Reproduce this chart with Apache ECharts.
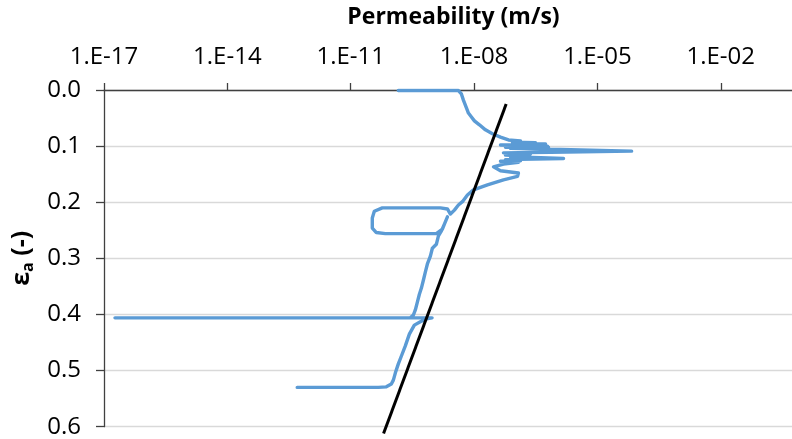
<!DOCTYPE html>
<html>
<head>
<meta charset="utf-8">
<script src="https://cdn.jsdelivr.net/npm/echarts@6/dist/echarts.min.js"></script>
<style>
  html, body { margin: 0; padding: 0; background: #fff; }
  #chart { width: 792px; height: 439px; }
</style>
</head>
<body>
<div id="chart"></div>
<script>
// Axial strain (-) along the measured permeability path
const strain = [
  0.001, 0.001, 0.007, 0.018, 0.032, 0.041, 0.048, 0.055, 0.062, 0.071,
  0.078, 0.084, 0.089, 0.091, 0.093, 0.094, 0.095, 0.096, 0.098, 0.100,
  0.102, 0.102, 0.104, 0.106, 0.109, 0.111, 0.112, 0.114, 0.116, 0.118,
  0.119, 0.122, 0.124, 0.126, 0.127, 0.129, 0.132, 0.137,
  0.144, 0.148, 0.154, 0.160, 0.169, 0.178, 0.187, 0.199,
  0.205, 0.214, 0.221, 0.212, 0.210, 0.210, 0.216, 0.228, 0.246, 0.254,
  0.256, 0.256, 0.248, 0.239, 0.226, 0.239, 0.251, 0.260, 0.275, 0.282,
  0.296, 0.310, 0.324, 0.339, 0.353, 0.364, 0.378, 0.392, 0.401, 0.406,
  0.406, 0.406, 0.408, 0.413, 0.419, 0.435, 0.456, 0.474, 0.488, 0.504,
  0.517, 0.524, 0.529, 0.530, 0.530
];

// Permeability (m/s) at each strain step
const permeability = [
  1.44e-10, 4.16e-9, 4.92e-9, 5.51e-9, 6.52e-9, 7.29e-9, 8.63e-9, 1.02e-8, 1.35e-8, 1.89e-8,
  2.80e-8, 4.39e-8, 6.87e-8, 1.35e-7, 8.59e-8, 3.12e-7, 1.02e-7, 5.47e-7, 4.39e-8, 6.12e-7,
  5.81e-8, 6.47e-7, 7.69e-8, 1.27e-6, 6.79e-5, 7.24e-7, 5.19e-8, 2.36e-7, 5.81e-8, 2.11e-7,
  7.69e-8, 1.50e-6, 5.81e-8, 1.35e-7, 4.39e-8, 1.20e-7, 5.19e-8, 2.97e-8,
  4.39e-8, 1.20e-7, 1.14e-7, 5.19e-8, 2.12e-8, 9.66e-9, 6.90e-9, 5.21e-9,
  4.16e-9, 3.33e-9, 2.66e-9, 2.25e-9, 1.52e-9, 5.87e-11, 3.75e-11, 3.35e-11, 3.35e-11, 4.20e-11,
  6.95e-11, 1.21e-9, 1.70e-9, 1.90e-9, 2.25e-9, 1.90e-9, 1.61e-9, 1.36e-9, 1.21e-9, 9.68e-10,
  8.67e-10, 7.33e-10, 6.55e-10, 5.85e-10, 5.24e-10, 4.68e-10, 4.18e-10, 3.73e-10, 3.34e-10, 2.82e-10,
  1.85e-17, 9.53e-10, 6.92e-10, 4.94e-10, 3.53e-10, 2.67e-10, 2.13e-10, 1.71e-10, 1.44e-10, 1.22e-10,
  1.09e-10, 9.73e-11, 7.34e-11, 4.70e-11, 5.00e-13
];

// Straight trend line (end points)
const trendStrain = [0.025, 0.612];
const trendPermeability = [6.04e-8, 6.3e-11];

// Axis tick labels
const xTickLabels = ['1.E-17', '1.E-14', '1.E-11', '1.E-08', '1.E-05', '1.E-02'];
const xTickExponents = [-17, -14, -11, -8, -5, -2];
const yTickLabels = ['0.0', '0.1', '0.2', '0.3', '0.4', '0.5', '0.6'];

const FONT = 'Open Sans';
const measured = strain.map((e, i) => [permeability[i], e]);
const trend = trendStrain.map((e, i) => [trendPermeability[i], e]);

const chart = echarts.init(document.getElementById('chart'), null, { renderer: 'canvas' });
chart.setOption({
  animation: false,
  backgroundColor: '#ffffff',
  // the x range runs on past the right edge of the canvas (up to 1 m/s)
  grid: {
    left: 104, top: 90, width: 699, height: 336.7,
    containLabel: false,
    outerBoundsMode: 'none'
  },
  xAxis: {
    type: 'log',
    logBase: 10,
    position: 'top',
    min: 1e-17,
    max: 1,
    interval: 3,
    name: 'Permeability (m/s)',
    nameLocation: 'middle',
    nameGap: 61,
    nameTextStyle: { fontFamily: FONT, fontSize: 23, fontWeight: 'bold', color: '#000' },
    axisLine: { show: true, lineStyle: { color: '#404040', width: 1.3 } },
    axisTick: { show: true, inside: false, length: 7, lineStyle: { color: '#404040', width: 1.3 } },
    axisLabel: {
      fontFamily: FONT, fontSize: 24, color: '#000', margin: 21,
      showMaxLabel: false,
      formatter: function (v) {
        const ex = Math.round(Math.log10(v));
        const idx = xTickExponents.indexOf(ex);
        return idx >= 0 ? xTickLabels[idx] : '';
      }
    },
    splitLine: { show: false },
    minorTick: { show: false }
  },
  yAxis: {
    type: 'value',
    inverse: true,
    min: 0,
    max: 0.6,
    interval: 0.1,
    name: '{e|ε}{s|a}{e| (-)}',
    nameLocation: 'middle',
    nameRotate: 90,
    nameGap: 66,
    nameTextStyle: {
      rich: {
        e: { fontFamily: FONT, fontSize: 25, fontWeight: 'bold', color: '#000', lineHeight: 28 },
        s: { fontFamily: FONT, fontSize: 16, fontWeight: 'bold', color: '#000', lineHeight: 28, verticalAlign: 'bottom', padding: [11, 0, 0, 0] }
      }
    },
    axisLine: { show: true, lineStyle: { color: '#404040', width: 1.3 } },
    axisTick: { show: true, inside: false, length: 8, lineStyle: { color: '#404040', width: 1.3 } },
    axisLabel: {
      fontFamily: FONT, fontSize: 24, color: '#000', margin: 23,
      formatter: function (v) { return yTickLabels[Math.round(v * 10)]; }
    },
    splitLine: { show: true, lineStyle: { color: '#d9d9d9', width: 1.3 } }
  },
  series: [
    {
      name: 'Measured',
      type: 'line',
      data: measured,
      showSymbol: false,
      symbol: 'none',
      smooth: false,
      lineStyle: { color: '#5b9bd5', width: 3.4, join: 'round', cap: 'round' },
      z: 2
    },
    {
      name: 'Trend',
      type: 'line',
      data: trend,
      showSymbol: false,
      symbol: 'none',
      clip: false,
      lineStyle: { color: '#000000', width: 3, cap: 'butt' },
      z: 3
    }
  ]
});
</script>
</body>
</html>
